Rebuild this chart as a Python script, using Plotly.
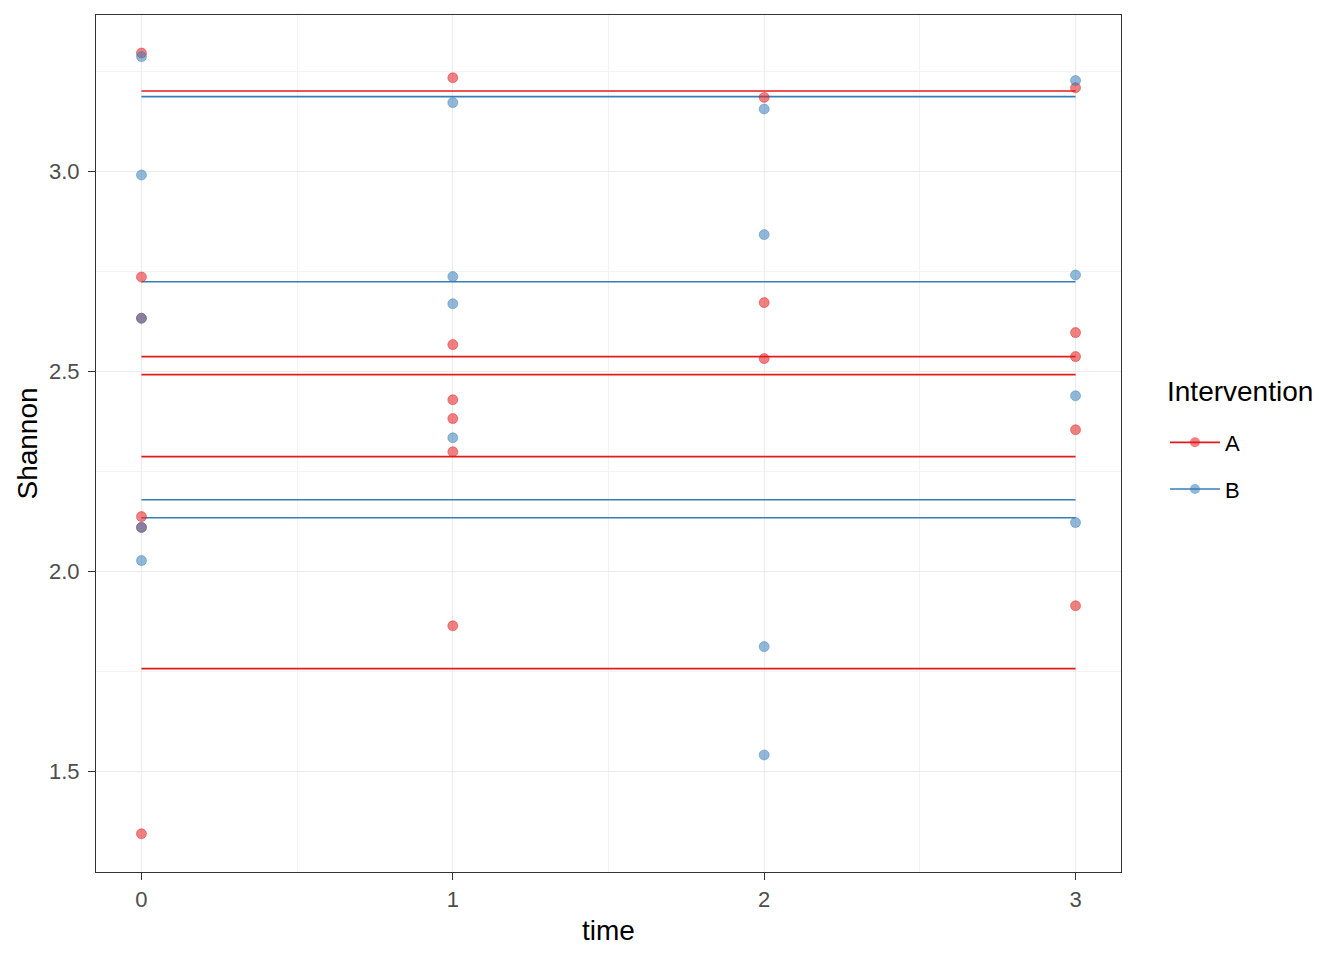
import plotly.graph_objects as go

# Observations
time_A = [0, 0, 0, 0, 0, 0,
          1, 1, 1, 1, 1, 1,
          2, 2, 2,
          3, 3, 3, 3, 3]
shannon_A = [3.295, 2.735, 2.632, 2.136, 2.109, 1.343,
             3.233, 2.566, 2.428, 2.381, 2.298, 1.863,
             3.184, 2.671, 2.531,
             3.208, 2.596, 2.536, 2.353, 1.913]

time_B = [0, 0, 0, 0, 0,
          1, 1, 1, 1,
          2, 2, 2, 2,
          3, 3, 3, 3]
shannon_B = [3.286, 2.990, 2.632, 2.109, 2.026,
             3.171, 2.736, 2.668, 2.333,
             3.155, 2.841, 1.811, 1.540,
             3.226, 2.740, 2.438, 2.121]

# Fitted (flat) lines per subject
fit_A = [3.200, 2.536, 2.491, 2.286, 1.756]
fit_B = [3.186, 2.723, 2.178, 2.133]
fit_time = [0, 3]

groups = ["A", "B"]
legend_title = "Intervention"
colors = {"A": "#E41A1C", "B": "#377EB8"}
fill = {"A": "rgba(228,26,28,0.55)", "B": "rgba(55,126,184,0.55)"}

fig = go.Figure()

def line_xy(levels):
    xs, ys = [], []
    for lv in levels:
        xs += fit_time + [None]
        ys += [lv, lv, None]
    return xs, ys

for g, fits in [("A", fit_A), ("B", fit_B)]:
    lx, ly = line_xy(fits)
    fig.add_trace(go.Scatter(x=lx, y=ly, mode="lines",
                             line=dict(color=colors[g], width=1.6),
                             showlegend=False, hoverinfo="skip"))

for g, t, s in [("A", time_A, shannon_A), ("B", time_B, shannon_B)]:
    fig.add_trace(go.Scatter(x=t, y=s, mode="markers",
                             marker=dict(size=10, color=fill[g],
                                         line=dict(color=fill[g], width=0.8)),
                             showlegend=False))

for g in groups:
    fig.add_trace(go.Scatter(x=[None], y=[None], mode="lines+markers", name=g,
                             legendgroup=g,
                             line=dict(color=colors[g], width=1.6),
                             marker=dict(size=10, color=fill[g])))

axis_common = dict(
    showline=True, mirror=True, linecolor="#333333", linewidth=1.2,
    ticks="outside", ticklen=7, tickcolor="#333333", tickwidth=1.2,
    tickfont=dict(size=22, color="#4D4D4D"),
    gridcolor="#EBEBEB", gridwidth=1.2, zeroline=False,
)

fig.update_xaxes(**axis_common, range=[-0.146, 3.146], tickvals=[0, 1, 2, 3],
                 minor=dict(tickvals=[0.5, 1.5, 2.5], showgrid=True,
                            gridcolor="#F3F3F3", gridwidth=0.8, ticks=""),
                 title=dict(text="time", font=dict(size=28, color="black"), standoff=9))
fig.update_yaxes(**axis_common, range=[1.2475, 3.39], tickvals=[1.5, 2.0, 2.5, 3.0],
                 ticktext=["1.5", "2.0", "2.5", "3.0"], ticklabelstandoff=4,
                 minor=dict(tickvals=[1.25, 1.75, 2.25, 2.75, 3.25], showgrid=True,
                            gridcolor="#F3F3F3", gridwidth=0.8, ticks=""),
                 title=dict(text="Shannon", font=dict(size=28, color="black"), standoff=3))

fig.add_annotation(text=legend_title, xref="paper", yref="paper",
                   x=1.0429, y=0.5601, xanchor="left", yanchor="middle",
                   showarrow=False, font=dict(size=28, color="black"))

fig.update_layout(
    width=1344, height=960,
    margin=dict(l=88, r=231, t=7, b=96, autoexpand=False),
    paper_bgcolor="white", plot_bgcolor="white",
    font=dict(family="Liberation Sans, Arial, sans-serif"),
    legend=dict(font=dict(size=22, color="black"),
                x=1.0429, xanchor="left", y=0.4737, yanchor="middle",
                itemwidth=50, tracegroupgap=15),
)

fig.write_html("out.html")
